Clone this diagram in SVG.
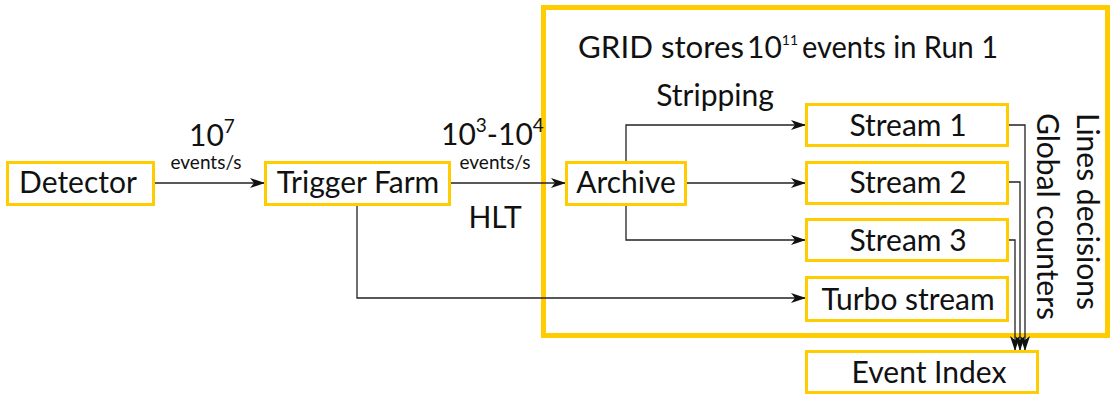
<svg xmlns="http://www.w3.org/2000/svg" width="1113" height="394" viewBox="0 0 1113 394">
<style>
.box{fill:#fff;stroke:#FFCC00;stroke-width:3}
.t{font-family:Lato,"Open Sans",sans-serif;font-size:30px;fill:#111}
.g{font-family:Lato,"Open Sans",sans-serif;font-size:30px;fill:#111}
.s{font-family:Lato,"Open Sans",sans-serif;font-size:19px;fill:#111}
.c{fill:none;stroke:#222;stroke-width:1.3}
</style>
<defs>
<marker id="ah" markerUnits="userSpaceOnUse" markerWidth="16" markerHeight="12" refX="15" refY="5" orient="auto">
<path d="M0,0 L15,5 L0,10 L4,5 Z" fill="#111"/>
</marker>
</defs>
<rect x="543.5" y="7.5" width="564" height="328" fill="none" stroke="#FFCC00" stroke-width="5"/>
<g id="connectors">
<line class="c" x1="154" y1="183" x2="265" y2="183" marker-end="url(#ah)"/>
<line class="c" x1="450" y1="183" x2="566" y2="183" marker-end="url(#ah)"/>
<polyline class="c" points="626,161 626,125 806,125" marker-end="url(#ah)"/>
<line class="c" x1="686" y1="183" x2="806" y2="183" marker-end="url(#ah)"/>
<polyline class="c" points="626,205 626,240 806,240" marker-end="url(#ah)"/>
<polyline class="c" points="357,205 357,298 806,298" marker-end="url(#ah)"/>
<polyline class="c" points="1008,125 1025,125 1025,351" marker-end="url(#ah)"/>
<polyline class="c" points="1008,182 1020,182 1020,351" marker-end="url(#ah)"/>
<polyline class="c" points="1008,240 1015,240 1015,351" marker-end="url(#ah)"/>
</g>
<g id="detector"><rect class="box" x="7.5" y="162.5" width="146" height="42"/><text class="t" x="78" y="193" text-anchor="middle">Detector</text></g>
<g id="trigger"><rect class="box" x="265.5" y="162.5" width="184" height="42"/><text class="t" x="358" y="193" text-anchor="middle">Trigger Farm</text></g>
<g id="archive"><rect class="box" x="566.5" y="162.5" width="119" height="42"/><text class="t" x="626" y="193" text-anchor="middle">Archive</text></g>
<g id="stream1"><rect class="box" x="806.5" y="104.5" width="201" height="41"/><text class="t" x="908" y="136" text-anchor="middle">Stream 1</text></g>
<g id="stream2"><rect class="box" x="806.5" y="162.5" width="201" height="41"/><text class="t" x="908" y="193" text-anchor="middle">Stream 2</text></g>
<g id="stream3"><rect class="box" x="806.5" y="219.5" width="201" height="41"/><text class="t" x="908" y="251" text-anchor="middle">Stream 3</text></g>
<g id="turbo"><rect class="box" x="806.5" y="277.5" width="201" height="43"/><text class="t" x="908" y="310" text-anchor="middle">Turbo stream</text></g>
<g id="eventindex"><rect class="box" x="806.5" y="351.5" width="231" height="41"/><text class="t" x="929" y="383" text-anchor="middle">Event Index</text></g>
<g id="labels">
<text class="t" x="189" y="146">10<tspan class="s" dy="-13">7</tspan></text>
<text class="s" x="206" y="169" text-anchor="middle">events/s</text>
<text class="t" x="441" y="145">10<tspan class="s" dy="-13">3</tspan><tspan dy="13">-10</tspan><tspan class="s" dy="-13">4</tspan></text>
<text class="s" x="495" y="169" text-anchor="middle">events/s</text>
<text class="t" x="495" y="228" text-anchor="middle">HLT</text>
<text class="g" x="578" y="58" textLength="166" lengthAdjust="spacingAndGlyphs">GRID stores</text>
<text class="g" x="747" y="58">10<tspan style="font-size:14px" dy="-13">11</tspan></text>
<text class="g" x="802" y="58" textLength="196" lengthAdjust="spacingAndGlyphs">events in Run 1</text>
<text class="t" x="715" y="106" text-anchor="middle">Stripping</text>
<text class="t" transform="translate(1037,113) rotate(90)">Global counters</text>
<text class="t" transform="translate(1077,113) rotate(90)">Lines decisions</text>
</g>
</svg>
